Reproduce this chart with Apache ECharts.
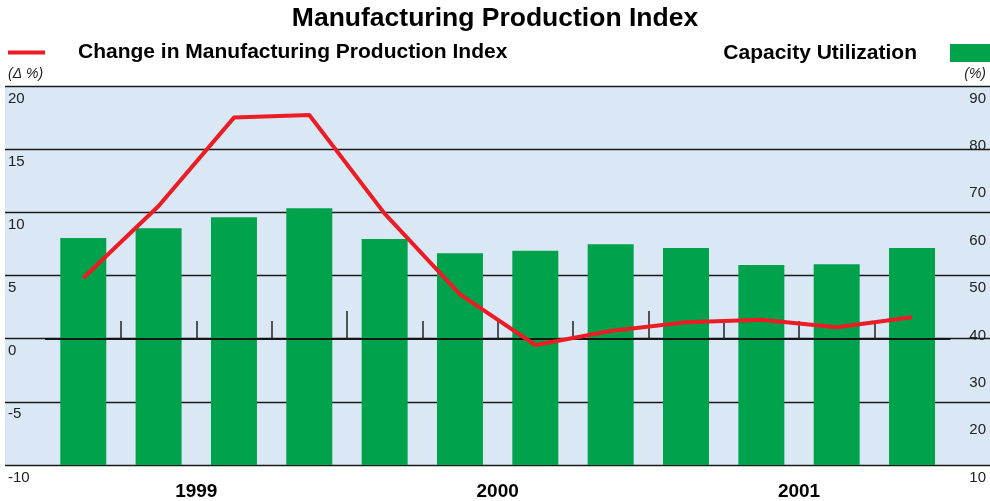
<!DOCTYPE html>
<html>
<head>
<meta charset="utf-8">
<title>Manufacturing Production Index</title>
<script src="https://cdn.jsdelivr.net/npm/echarts@6/dist/echarts.min.js"></script>
<style>
  html, body { margin: 0; padding: 0; background: #ffffff; }
  #chart { width: 990px; height: 501px; }
</style>
</head>
<body>
<div id="chart"></div>
<script>
// Quarterly data, 1999 Q1 – 2001 Q4
const quarters = ['1999 Q1', '1999 Q2', '1999 Q3', '1999 Q4',
                  '2000 Q1', '2000 Q2', '2000 Q3', '2000 Q4',
                  '2001 Q1', '2001 Q2', '2001 Q3', '2001 Q4'];
const years = ['1999', '2000', '2001'];

// Capacity utilization (%), right axis
const capacityUtilization = [57.9, 60.0, 62.3, 64.2, 57.7, 54.7, 55.2, 56.6, 55.8, 52.2, 52.4, 55.8];
// Change in manufacturing production index (Δ %), left axis
const productionChange = [4.8, 10.5, 17.5, 17.7, 9.9, 3.5, -0.5, 0.6, 1.3, 1.5, 0.9, 1.7];

// Axis scales
const leftAxis = { min: -10, max: 20, interval: 5 };
const rightAxis = { min: 10, max: 90, interval: 10 };
// Quarter boundaries that carry a tick on the zero line, and the year boundaries
const quarterBoundaries = [1, 2, 3, 4, 5, 6, 7, 8, 9, 10, 11];
const yearBoundaries = [4, 8];

const FONT = "'Liberation Sans', Arial, sans-serif";
const LINE_NAME = 'Change in Manufacturing Production Index';
const BAR_NAME = 'Capacity Utilization';

const chart = echarts.init(document.getElementById('chart'), null, { renderer: 'canvas' });

const plotTop = 86, plotBottom = 36;
const barLeft = 45.6, barRight = 40.3;
const zeroLineBottom = 162;

chart.setOption({
  animation: false,
  textStyle: { fontFamily: FONT },
  title: {
    text: 'Manufacturing Production Index',
    left: 'center',
    top: 0,
    textStyle: { fontFamily: FONT, fontWeight: 'bold', fontSize: 26.5, color: '#000' }
  },
  legend: [
    {
      data: [{ name: LINE_NAME, icon: 'rect' }],
      left: 8, top: 42, padding: 0,
      itemWidth: 37, itemHeight: 4,
      selectedMode: false,
      textStyle: { fontFamily: FONT, fontWeight: 'bold', fontSize: 21, color: '#000', padding: [0, 0, 0, 28] }
    },
    {
      data: [{ name: BAR_NAME, icon: 'rect' }],
      right: 0, top: 42.5, padding: 0,
      itemWidth: 40, itemHeight: 18,
      align: 'right',
      selectedMode: false,
      textStyle: { fontFamily: FONT, fontWeight: 'bold', fontSize: 21, color: '#000', padding: [0, 28, 0, 0] }
    }
  ],
  grid: [
    // shaded plot background with the horizontal rules
    { left: 5, right: 0, top: plotTop, bottom: plotBottom, show: true,
      backgroundColor: '#dae8f5', borderWidth: 0, containLabel: false },
    // bars and line
    { left: barLeft, right: barRight, top: plotTop, bottom: plotBottom, containLabel: false },
    // zero line with quarter ticks
    { left: barLeft, right: barRight, top: plotTop, bottom: zeroLineBottom, containLabel: false }
  ],
  xAxis: [
    { gridIndex: 0, type: 'value', min: 0, max: 1, show: false },
    { gridIndex: 1, type: 'category', data: quarters, position: 'bottom', z: 3,
      axisLine: { show: true, lineStyle: { color: '#111', width: 1.5 } },
      axisTick: { show: false }, axisLabel: { show: false }, splitLine: { show: false } },
    { gridIndex: 1, type: 'category', data: years, position: 'bottom',
      axisLine: { show: false }, axisTick: { show: false }, splitLine: { show: false },
      axisLabel: { show: true, margin: 17, fontFamily: FONT, fontWeight: 'bold', fontSize: 19, color: '#000' } },
    { gridIndex: 2, type: 'value', min: 0, max: quarters.length, position: 'bottom', z: 3,
      axisLine: { show: true, onZero: false, lineStyle: { color: '#111', width: 1.5 } },
      axisTick: { show: true, inside: true, length: 18, customValues: quarterBoundaries,
                  lineStyle: { color: '#222', width: 1.5 } },
      axisLabel: { show: false }, splitLine: { show: false } },
    { gridIndex: 2, type: 'value', min: 0, max: quarters.length, position: 'bottom', z: 3,
      axisLine: { show: false, onZero: false },
      axisTick: { show: true, inside: true, length: 28, customValues: yearBoundaries,
                  lineStyle: { color: '#222', width: 1.5 } },
      axisLabel: { show: false }, splitLine: { show: false } }
  ],
  yAxis: [
    { gridIndex: 0, type: 'value', position: 'left', min: leftAxis.min, max: leftAxis.max, interval: leftAxis.interval,
      name: '(Δ %)', nameLocation: 'end', nameGap: 5,
      nameTextStyle: { fontFamily: FONT, fontStyle: 'italic', fontSize: 14, color: '#222', align: 'left', padding: [0, 0, 0, 3] },
      axisLine: { show: false }, axisTick: { show: false },
      axisLabel: { inside: true, margin: 3, verticalAlign: 'top', padding: [5, 0, 0, 0],
                   fontFamily: FONT, fontSize: 15, color: '#222' },
      splitLine: { show: true, lineStyle: { color: '#1a1a1a', width: 1.3 } } },
    { gridIndex: 0, type: 'value', position: 'right', min: rightAxis.min, max: rightAxis.max, interval: rightAxis.interval,
      name: '(%)', nameLocation: 'end', nameGap: 5,
      nameTextStyle: { fontFamily: FONT, fontStyle: 'italic', fontSize: 14, color: '#222', align: 'right', padding: [0, 4, 0, 0] },
      axisLine: { show: false }, axisTick: { show: false },
      axisLabel: { inside: true, margin: 4, verticalAlign: 'top', padding: [5, 0, 0, 0],
                   fontFamily: FONT, fontSize: 15, color: '#222' },
      splitLine: { show: false } },
    { gridIndex: 1, type: 'value', position: 'left', min: leftAxis.min, max: leftAxis.max, interval: leftAxis.interval, show: false },
    { gridIndex: 1, type: 'value', position: 'right', min: rightAxis.min, max: rightAxis.max, interval: rightAxis.interval, show: false },
    { gridIndex: 2, type: 'value', min: 0, max: 1, show: false }
  ],
  series: [
    {
      name: BAR_NAME,
      type: 'bar',
      xAxisIndex: 1, yAxisIndex: 3,
      data: capacityUtilization,
      barWidth: 46,
      itemStyle: { color: '#00a24c' },
      z: 2
    },
    {
      name: LINE_NAME,
      type: 'line',
      xAxisIndex: 1, yAxisIndex: 2,
      data: productionChange,
      symbol: 'none',
      itemStyle: { color: '#ec1c24' },
      lineStyle: { color: '#ec1c24', width: 4 },
      z: 5
    }
  ]
});
</script>
</body>
</html>
